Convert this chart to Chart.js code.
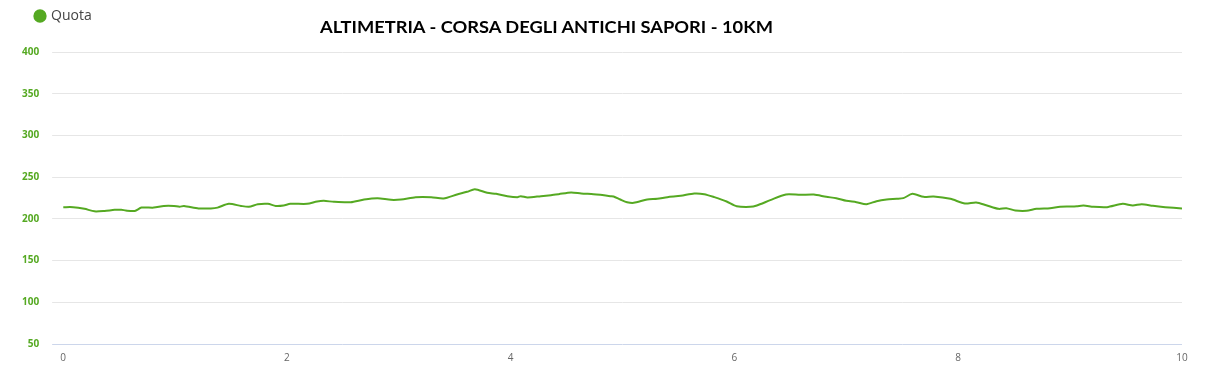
<!DOCTYPE html>
<html>
<head>
<meta charset="utf-8">
<script src="https://cdn.jsdelivr.net/npm/chart.js@4"></script>
<style>
  html, body { margin: 0; padding: 0; background: #fff; }
  #wrap { position: relative; width: 1213px; height: 379px; }
  #title { position: absolute; left: 320px; top: 17px; font-family: Lato, "Open Sans", sans-serif; font-weight: bold; font-size: 17px; line-height: 20px; color: #000; white-space: nowrap; transform-origin: 0 0; }
</style>
</head>
<body>
<div id="wrap">
  <canvas id="c" width="1213" height="379"></canvas>
  <div id="title">ALTIMETRIA - CORSA DEGLI ANTICHI SAPORI - 10KM</div>
</div>
<script>
const km = [0.00,0.09,0.19,0.28,0.37,0.46,0.52,0.56,0.64,0.70,0.81,0.90,0.99,1.04,1.08,1.21,1.32,1.38,1.48,1.59,1.66,1.74,1.83,1.90,1.97,2.03,2.18,2.27,2.33,2.42,2.57,2.69,2.81,2.93,3.02,3.15,3.29,3.40,3.52,3.61,3.68,3.79,3.87,3.97,4.06,4.09,4.15,4.27,4.36,4.43,4.54,4.63,4.74,4.80,4.89,4.92,4.98,5.04,5.10,5.22,5.31,5.40,5.52,5.64,5.73,5.82,5.93,6.02,6.14,6.20,6.32,6.46,6.59,6.71,6.82,6.91,7.00,7.09,7.18,7.27,7.36,7.45,7.51,7.59,7.69,7.78,7.93,8.06,8.16,8.25,8.36,8.43,8.51,8.61,8.70,8.82,8.91,9.00,9.06,9.12,9.21,9.33,9.47,9.56,9.64,9.74,9.85,10.00];
const quota = [214,214,212,209,209.5,210.8,211,210,209.5,213.5,213.5,215.5,215.5,214.5,215.5,212.5,212.5,213.5,218,215.5,214.5,217.5,218,215.5,216,218,218,220.8,221.6,220.4,220,223.2,224.8,222.8,223.2,226,226,224.4,229.2,232.4,235.6,231.2,230,227.2,226,227.2,225.6,227.2,228.4,229.6,231.6,230.4,229.6,228.8,227.2,226.8,223.2,220,219.2,223.2,224,226,227.6,230.4,229.6,226,220.8,215.2,214.4,216,222.4,229.2,228.8,229.2,226.4,224.8,221.6,220,217.6,221.2,223.2,224,224.8,230,226.4,226.8,224,218.4,219.6,216.4,212,212.8,210,209.6,212,212.8,214.4,214.8,215.2,216,214.4,214,218,216,217.6,215.6,214,212.4];
const seriesName = 'Quota';
const yTicks = [50, 100, 150, 200, 250, 300, 350, 400];
const xTicks = [0, 2, 4, 6, 8, 10];

const green = '#55a922';

const legendShift = {
  id: 'legendShift',
  afterLayout(chart) {
    const lg = chart.legend;
    if (lg) {
      lg.left += 20; lg.right += 20;
      lg.top -= 19; lg.bottom -= 19;
    }
  }
};

function draw() {
  const t = document.getElementById('title');
  const w = t.getBoundingClientRect().width;
  t.style.transform = 'scaleX(' + (453 / w) + ')';

  new Chart(document.getElementById('c'), {
    type: 'line',
    data: {
      datasets: [{
        label: seriesName,
        data: km.map((x, i) => ({ x: x, y: quota[i] })),
        borderColor: green,
        backgroundColor: green,
        borderWidth: 2,
        pointRadius: 0,
        tension: 0.25,
        fill: false
      }]
    },
    options: {
      responsive: false,
      animation: false,
      devicePixelRatio: 1,
      layout: { padding: { left: 9, right: 31, top: 21, bottom: 7 } },
      plugins: {
        legend: {
          display: true,
          position: 'top',
          align: 'start',
          labels: {
            usePointStyle: true,
            pointStyle: 'circle',
            boxWidth: 8,
            boxHeight: 8,
            padding: 7,
            color: '#444',
            font: { family: 'Open Sans', size: 14, weight: 'normal' }
          }
        },
        tooltip: { enabled: false },
        title: { display: false }
      },
      scales: {
        x: {
          type: 'linear',
          min: 0,
          max: 10,
          afterBuildTicks: (ax) => { ax.ticks = xTicks.map(v => ({ value: v })); },
          grid: { display: false, drawTicks: false },
          border: { display: false },
          ticks: { color: '#666', padding: 8, font: { family: 'Open Sans', size: 10 } }
        },
        y: {
          min: 50,
          max: 400,
          afterBuildTicks: (ax) => { ax.ticks = yTicks.map(v => ({ value: v })); },
          grid: {
            color: (ctx) => (ctx.tick && ctx.tick.value === 50 ? '#ccd6eb' : '#e6e6e6'),
            lineWidth: 1,
            tickLength: 11,
            drawTicks: true
          },
          border: { display: false },
          ticks: { color: green, padding: 13, font: { family: 'Open Sans', size: 10, weight: 'bold' } }
        }
      }
    },
    plugins: [legendShift]
  });
}

if (document.fonts && document.fonts.ready) {
  document.fonts.load('bold 17px Lato').then(() => document.fonts.ready).then(draw, draw);
} else {
  draw();
}
</script>
</body>
</html>
